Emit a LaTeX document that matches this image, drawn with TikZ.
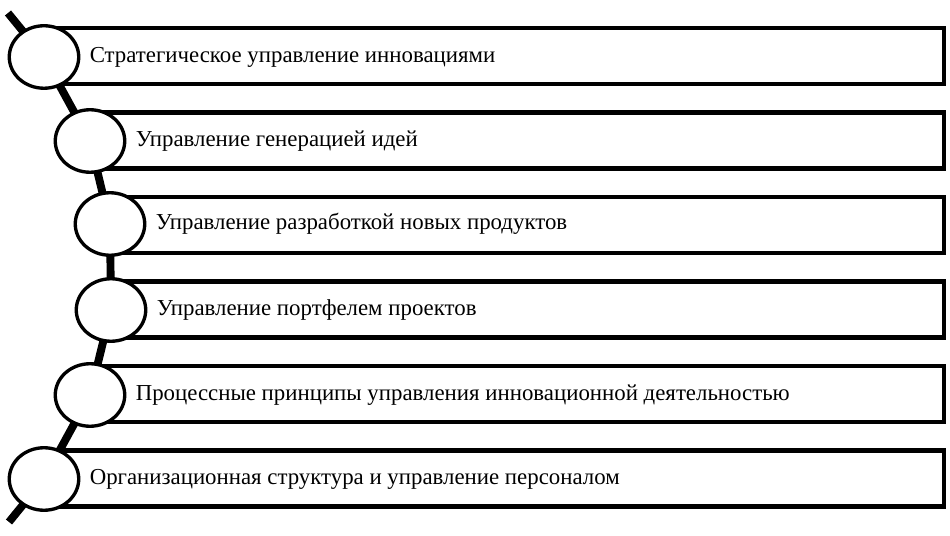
\documentclass[tikz,border=0pt]{standalone}
\usepackage{fontspec}
\setmainfont{Liberation Serif}
\usetikzlibrary{positioning,shapes.geometric,backgrounds}

\begin{document}
\begin{tikzpicture}[x=0.02cm,y=-0.02cm,
		box/.style = {draw,line width=2.3pt,minimum width=17.96cm,minimum height=1.12cm,anchor=west,inner sep=0pt},
		ring/.style = {ellipse,draw,line width=1.9pt,fill=white,minimum width=1.39cm,minimum height=1.25cm,inner sep=0pt},
		label text/.style = {anchor=west,inner sep=0pt,font=\fontsize{13}{15}\selectfont},
		spine/.style = {draw,line width=4.5pt}]
		\useasboundingbox (0,0) rectangle (950,536);
		\node (box1) at (44,56) [box] {};
		\node (box2) at (90,140.5) [box,minimum width=17.04cm] {};
		\node (box3) at (110,225) [box,minimum width=16.64cm] {};
		\node (box4) at (111,309.5) [box,minimum width=16.62cm] {};
		\node (box5) at (90,394) [box,minimum width=17.04cm] {};
		\node (box6) at (44,478.5) [box] {};
		\node (ring1) at (44,57) [ring] {};
		\node (ring2) at (90,141) [ring] {};
		\node (ring3) at (110,224) [ring] {};
		\node (ring4) at (111,310) [ring] {};
		\node (ring5) at (90,395) [ring] {};
		\node (ring6) at (44,479) [ring] {};
		\node (text1) [label text,right=0.18cm of ring1] {Стратегическое управление инновациями};
		\node (text2) [label text,right=0.18cm of ring2] {Управление генерацией идей};
		\node (text3) [label text,right=0.18cm of ring3] {Управление разработкой новых продуктов};
		\node (text4) [label text,right=0.18cm of ring4] {Управление портфелем проектов};
		\node (text5) [label text,right=0.18cm of ring5] {Процессные принципы управления инновационной деятельностью};
		\node (text6) [label text,right=0.18cm of ring6] {Организационная структура и управление персоналом};
		\coordinate (top) at (8,13);
		\coordinate (bottom) at (9,522);
		\begin{scope}[on background layer]
			\path [spine] (top) -- (ring1.center) -- (ring2.center) -- (ring3.center) -- (ring4.center) -- (ring5.center) -- (ring6.center) -- (bottom);
		\end{scope}
	\end{tikzpicture}
\end{document}
